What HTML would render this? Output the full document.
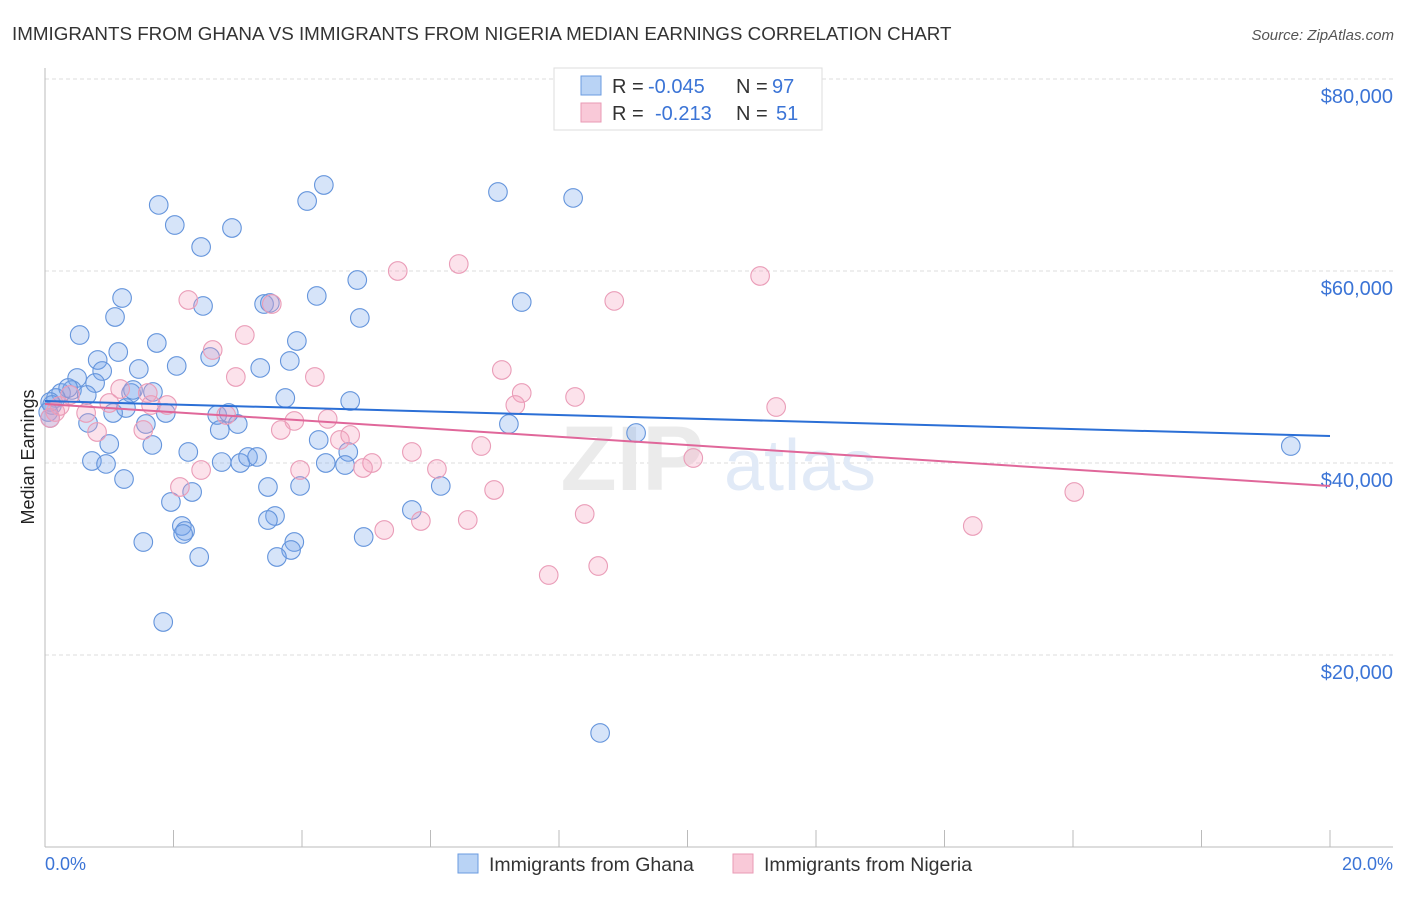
<!DOCTYPE html>
<html><head><meta charset="utf-8"><style>
body{margin:0;background:#fff;font-family:"Liberation Sans",sans-serif;}
svg text{font-family:"Liberation Sans",sans-serif;}
</style></head><body>
<svg width="1406" height="892" viewBox="0 0 1406 892">
<text x="12" y="40" font-size="18.8" fill="#333">IMMIGRANTS FROM GHANA VS IMMIGRANTS FROM NIGERIA MEDIAN EARNINGS CORRELATION CHART</text>
<text x="1394" y="40" font-size="15" fill="#555" font-style="italic" text-anchor="end">Source: ZipAtlas.com</text>
<g id="grid"></g>
<g id="wm">
<text x="632" y="490" font-size="92" fill="#ebebeb" font-family="Liberation Serif" text-anchor="middle" font-weight="bold">ZIP</text>
<text x="800" y="490" font-size="72" fill="#e1eaf7" text-anchor="middle">atlas</text>
</g>
<line x1="45" y1="68" x2="45" y2="847" stroke="#bbb"/>
<line x1="45" y1="847" x2="1393" y2="847" stroke="#bbb"/>
<g id="xticks"></g>
<g id="ylabels"></g>
<text transform="translate(34,457) rotate(-90)" font-size="18" fill="#222" text-anchor="middle">Median Earnings</text>
<text x="45" y="870" font-size="18" fill="#3b74d6">0.0%</text>
<text x="1393" y="870" font-size="18" fill="#3b74d6" text-anchor="end">20.0%</text>
<g id="pts"></g>
<g id="trends"></g>
<g>
<rect x="554" y="68" width="268" height="62" fill="#fff" stroke="#ddd"/>
<rect x="581" y="76" width="20" height="19" fill="#b9d3f5" stroke="#6a9be0"/>
<rect x="581" y="103" width="20" height="19" fill="#f9c9d8" stroke="#e99ab5"/>
<text x="612" y="93" font-size="20" fill="#333">R = <tspan fill="#3b74d6" x="648">-0.045</tspan><tspan x="736">N = </tspan><tspan fill="#3b74d6" x="772">97</tspan></text>
<text x="612" y="120" font-size="20" fill="#333">R = <tspan fill="#3b74d6" x="655">-0.213</tspan><tspan x="736">N = </tspan><tspan fill="#3b74d6" x="776">51</tspan></text>
</g>
<g>
<rect x="458" y="854" width="20" height="19" fill="#b9d3f5" stroke="#6a9be0"/>
<text x="489" y="871" font-size="19.5" fill="#333">Immigrants from Ghana</text>
<rect x="733" y="854" width="20" height="19" fill="#f9c9d8" stroke="#e99ab5"/>
<text x="764" y="871" font-size="19.5" fill="#333">Immigrants from Nigeria</text>
</g>
</svg>
<script>
const yTicks=[20000,40000,60000,80000];
const yTickLabels=["$20,000","$40,000","$60,000","$80,000"];
const xTickPcts=[0,2,4,6,8,10,12,14,16,18,20];
const ghanaX=[4.34,4.08,1.77,2.02,2.91,2.43,7.05,8.22,4.86,4.23,1.20,2.46,3.41,3.50,7.42,1.09,4.90,0.54,1.74,3.92,1.14,2.57,0.82,3.81,2.05,3.35,1.46,0.89,0.50,0.78,1.34,1.68,1.37,0.25,0.42,0.36,0.65,0.17,0.08,0.11,3.74,4.75,1.26,1.06,1.88,2.68,2.86,0.05,0.08,0.67,3.00,2.72,1.57,7.22,9.20,1.00,1.67,2.23,4.26,4.72,0.73,0.95,2.75,3.04,3.16,3.30,4.37,4.67,1.23,3.47,3.97,6.16,2.29,1.96,5.71,3.58,3.47,2.13,2.18,2.15,3.88,1.53,3.83,4.96,2.40,3.61,1.84,8.64,19.39];
const ghanaY=[68960,67290,66880,64790,64480,62500,68230,67610,59060,57400,57190,56360,56560,56670,56770,55210,55110,53330,52500,52710,51560,51040,50730,50630,50110,49900,49790,49580,48860,48330,47290,47400,47610,47290,47610,47810,47080,46770,46360,46040,46770,46460,45730,45210,45210,45000,45210,45310,44690,44170,44060,43440,44060,44060,43130,41980,41880,41150,42400,41150,40210,39900,40100,40000,40630,40630,40000,39790,38330,37500,37610,37610,36980,35940,35110,34480,34060,33440,32920,32610,31770,31770,30940,32290,30210,30210,23440,11880,41770];
const nigeriaX=[2.23,3.53,3.11,2.61,5.49,6.44,11.13,8.86,7.11,4.20,2.97,1.17,1.60,1.65,7.42,8.25,7.32,11.38,1.90,1.00,4.40,2.82,3.88,0.64,1.53,0.81,3.67,4.59,4.75,6.79,5.71,10.09,2.43,3.97,5.09,4.95,6.10,2.10,6.99,16.02,6.58,5.85,5.28,8.40,14.44,7.84,8.61,0.16,0.23,0.08,0.39];
const nigeriaY=[56980,56560,53330,51770,60000,60730,59480,56880,49690,48960,48960,47710,47290,46040,47290,46880,46040,45830,46040,46250,44590,45000,44380,45210,43440,43230,43440,42400,42920,41770,41150,40520,39270,39270,40000,39480,39380,37500,37190,36980,34060,33960,33020,34690,33440,28330,29270,45310,45940,44690,47080];
const ghanaTrend=[46460,42810];
const nigeriaTrend=[46150,37600];
const NS="http://www.w3.org/2000/svg";
const X0=45,X1=1330,Y0=847,Y80=79;
function sx(p){return X0+(X1-X0)*p/20;}
function sy(v){return Y0-(Y0-Y80)*v/80000;}
function mk(t,a,parent){const e=document.createElementNS(NS,t);for(const k in a)e.setAttribute(k,a[k]);parent.appendChild(e);return e;}
const grid=document.getElementById('grid'),yl=document.getElementById('ylabels'),xt=document.getElementById('xticks');
yTicks.forEach((v,i)=>{
 const l=mk('line',{x1:45,x2:1393,y1:sy(v),y2:sy(v),stroke:'#ddd','stroke-dasharray':'4,3'},grid);
 
 
 const t=mk('text',{x:1393,y:sy(v)+24,'font-size':20,fill:'#3b74d6','text-anchor':'end'},yl);
 t.textContent=yTickLabels[i];
 
 
});
xTickPcts.forEach(p=>{
 const l=mk('line',{x1:sx(p),x2:sx(p),y1:830,y2:847,stroke:'#bbb'},xt);
 
 
});
const pts=document.getElementById('pts');
function series(xs,ys,fill,stroke,name){
 const g=mk('g',{},pts);
 
 
 xs.forEach((x,i)=>{
  const c=mk('circle',{cx:sx(x),cy:sy(ys[i]),r:9.3,fill:fill,stroke:stroke,'stroke-width':1.1},g);
  
  
 });
}
series(ghanaX,ghanaY,'rgba(120,165,235,0.3)','#6595dc','ghana');
series(nigeriaX,nigeriaY,'rgba(245,160,190,0.3)','#ea9db8','nigeria');
const tr=document.getElementById('trends');
const bl=mk('line',{x1:sx(0),y1:sy(ghanaTrend[0]),x2:sx(20),y2:sy(ghanaTrend[1]),stroke:'#2b6fd6','stroke-width':2},tr);


const pl=mk('line',{x1:sx(0),y1:sy(nigeriaTrend[0]),x2:sx(20),y2:sy(nigeriaTrend[1]),stroke:'#e0679a','stroke-width':2},tr);


</script>
</body></html>
